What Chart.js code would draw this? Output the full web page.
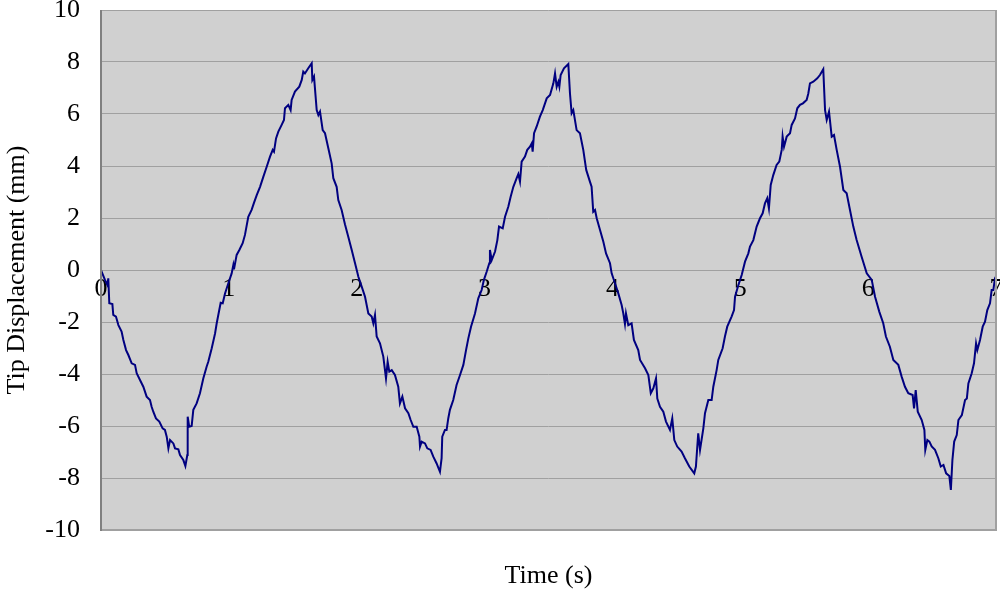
<!DOCTYPE html>
<html>
<head>
<meta charset="utf-8">
<script src="https://cdn.jsdelivr.net/npm/chart.js@4"></script>
<style>
  html, body { margin: 0; padding: 0; background: #ffffff; }
  #wrap { width: 1000px; height: 596px; }
</style>
</head>
<body>
<div id="wrap"><canvas id="tipChart" width="1000" height="596"></canvas></div>
<script>
// time (s)
const times = [
  0.000, 0.031, 0.050, 0.057, 0.065, 0.089, 0.096, 0.117, 0.136, 0.161,
  0.175, 0.196, 0.214, 0.240, 0.266, 0.279, 0.305, 0.331, 0.357, 0.383,
  0.396, 0.409, 0.430, 0.456, 0.482, 0.500, 0.514, 0.527, 0.540, 0.566,
  0.579, 0.605, 0.618, 0.644, 0.660, 0.675, 0.678, 0.690, 0.709, 0.722,
  0.748, 0.774, 0.800, 0.826, 0.839, 0.866, 0.892, 0.905, 0.925, 0.936,
  0.952, 0.970, 0.996, 1.022, 1.035, 1.040, 1.061, 1.082, 1.108, 1.126,
  1.152, 1.178, 1.197, 1.218, 1.244, 1.270, 1.296, 1.322, 1.343, 1.353,
  1.369, 1.387, 1.413, 1.431, 1.439, 1.465, 1.483, 1.491, 1.517, 1.551,
  1.570, 1.582, 1.595, 1.621, 1.648, 1.653, 1.666, 1.687, 1.700, 1.713,
  1.734, 1.752, 1.778, 1.804, 1.817, 1.843, 1.856, 1.882, 1.908, 1.934,
  1.961, 1.987, 2.013, 2.039, 2.065, 2.091, 2.117, 2.130, 2.143, 2.156,
  2.182, 2.208, 2.229, 2.242, 2.255, 2.274, 2.299, 2.325, 2.338, 2.357,
  2.378, 2.404, 2.422, 2.443, 2.469, 2.490, 2.495, 2.508, 2.534, 2.552,
  2.578, 2.599, 2.625, 2.651, 2.664, 2.669, 2.690, 2.703, 2.716, 2.729,
  2.755, 2.781, 2.808, 2.834, 2.855, 2.873, 2.894, 2.925, 2.951, 2.977,
  2.995, 3.017, 3.037, 3.042, 3.056, 3.082, 3.100, 3.113, 3.142, 3.160,
  3.186, 3.204, 3.225, 3.251, 3.264, 3.277, 3.290, 3.316, 3.334, 3.355,
  3.369, 3.376, 3.387, 3.407, 3.433, 3.455, 3.486, 3.512, 3.538, 3.551,
  3.564, 3.577, 3.585, 3.595, 3.621, 3.655, 3.668, 3.681, 3.694, 3.720,
  3.746, 3.772, 3.795, 3.824, 3.837, 3.850, 3.864, 3.877, 3.903, 3.929,
  3.950, 3.981, 3.994, 4.020, 4.046, 4.072, 4.085, 4.098, 4.106, 4.124,
  4.150, 4.168, 4.202, 4.216, 4.255, 4.281, 4.300, 4.320, 4.341, 4.351,
  4.372, 4.398, 4.419, 4.450, 4.468, 4.484, 4.507, 4.541, 4.567, 4.601,
  4.640, 4.653, 4.671, 4.685, 4.711, 4.724, 4.750, 4.776, 4.789, 4.815,
  4.828, 4.862, 4.880, 4.898, 4.932, 4.951, 4.959, 4.985, 5.011, 5.037,
  5.063, 5.076, 5.102, 5.128, 5.154, 5.175, 5.193, 5.211, 5.224, 5.238,
  5.258, 5.284, 5.305, 5.324, 5.331, 5.342, 5.363, 5.389, 5.402, 5.428,
  5.446, 5.467, 5.490, 5.519, 5.532, 5.545, 5.571, 5.602, 5.623, 5.649,
  5.663, 5.676, 5.694, 5.715, 5.733, 5.754, 5.780, 5.806, 5.832, 5.858,
  5.884, 5.910, 5.949, 5.989, 6.028, 6.054, 6.087, 6.118, 6.139, 6.170,
  6.197, 6.236, 6.262, 6.288, 6.314, 6.348, 6.359, 6.372, 6.388, 6.419,
  6.440, 6.447, 6.463, 6.479, 6.497, 6.523, 6.549, 6.568, 6.589, 6.610,
  6.635, 6.647, 6.659, 6.673, 6.693, 6.706, 6.733, 6.758, 6.772, 6.784,
  6.810, 6.828, 6.844, 6.854, 6.875, 6.896, 6.914, 6.932, 6.953, 6.966,
  6.979, 6.992, 7.000
];

// tip displacement (mm)
const displacement = [
   0.00, -0.38, -0.58, -0.32, -1.28, -1.31, -1.73, -1.79, -2.12, -2.37,
  -2.69, -3.08, -3.27, -3.59, -3.65, -3.97, -4.23, -4.49, -4.87, -5.00,
  -5.26, -5.45, -5.71, -5.83, -6.09, -6.15, -6.41, -6.86, -6.54, -6.67,
  -6.86, -6.90, -7.12, -7.31, -7.54, -7.12, -5.64, -6.03, -6.00, -5.38,
  -5.13, -4.74, -4.17, -3.72, -3.53, -3.01, -2.44, -2.05, -1.54, -1.26,
  -1.28, -0.90, -0.51, -0.13,  0.19,  0.03,  0.58,  0.77,  1.03,  1.35,
   2.05,  2.31,  2.59,  2.88,  3.20,  3.59,  3.97,  4.36,  4.62,  4.55,
   5.06,  5.32,  5.58,  5.77,  6.22,  6.35,  6.15,  6.54,  6.86,  7.05,
   7.31,  7.63,  7.56,  7.76,  7.95,  7.31,  7.44,  6.15,  5.96,  6.09,
   5.38,  5.26,  4.68,  4.10,  3.53,  3.20,  2.69,  2.31,  1.76,  1.28,
   0.77,  0.26, -0.26, -0.64, -1.03, -1.67, -1.79, -2.05, -1.73, -2.56,
  -2.82, -3.33, -4.17, -3.53, -3.91, -3.85, -4.04, -4.49, -5.13, -4.87,
  -5.32, -5.51, -5.77, -6.03, -6.03, -6.41, -6.79, -6.60, -6.67, -6.86,
  -6.92, -7.18, -7.44, -7.76, -7.24, -6.41, -6.15, -6.15, -5.71, -5.38,
  -5.00, -4.42, -4.04, -3.65, -3.08, -2.63, -2.18, -1.67, -1.09, -0.77,
  -0.38, -0.06,  0.26,  0.77,  0.38,  0.71,  1.15,  1.67,  1.60,  2.05,
   2.44,  2.82,  3.20,  3.53,  3.69,  3.40,  4.17,  4.36,  4.62,  4.74,
   4.87,  4.55,  5.26,  5.51,  5.90,  6.15,  6.60,  6.73,  7.18,  7.56,
   7.05,  7.24,  7.05,  7.50,  7.76,  7.92,  6.79,  6.03,  6.15,  5.38,
   5.26,  4.62,  3.85,  3.40,  3.20,  2.24,  2.31,  1.99,  1.54,  1.09,
   0.64,  0.26, -0.13, -0.51, -0.90, -1.35, -1.67, -2.08, -1.67, -2.12,
  -2.05, -2.69, -3.08, -3.46, -3.78, -4.04, -4.74, -4.55, -4.17, -4.94,
  -5.26, -5.45, -5.83, -6.15, -5.71, -6.54, -6.79, -6.98, -7.24, -7.56,
  -7.82, -7.56, -6.28, -6.92, -6.09, -5.51, -5.00, -5.00, -4.49, -3.85,
  -3.46, -3.01, -2.56, -2.18, -1.79, -1.54, -1.03, -0.58, -0.19,  0.32,
   0.64,  0.90,  1.15,  1.67,  1.99,  2.18,  2.56,  2.76,  2.37,  3.27,
   3.65,  4.04,  4.17,  4.62,  5.13,  4.74,  5.13,  5.26,  5.58,  5.83,
   6.22,  6.35,  6.41,  6.54,  6.79,  7.18,  7.24,  7.37,  7.50,  7.72,
   6.15,  5.77,  6.09,  5.13,  5.19,  4.62,  3.97,  3.08,  2.95,  2.31,
   1.67,  1.15,  0.51, -0.13, -0.38, -1.03, -1.60, -2.05, -2.56, -2.95,
  -3.46, -3.65, -4.10, -4.49, -4.74, -4.81, -5.32, -4.62, -5.45, -5.77,
  -6.15, -6.92, -6.54, -6.60, -6.79, -6.92, -7.24, -7.56, -7.50, -7.82,
  -7.92, -8.46, -7.31, -6.60, -6.35, -5.77, -5.58, -5.00, -4.94, -4.36,
  -3.97, -3.59, -2.82, -3.08, -2.69, -2.18, -1.99, -1.54, -1.28, -0.77,
  -0.77, -0.32, -0.25
];

// 坐标轴刻度
const xTicks = [0, 1, 2, 3, 4, 5, 6, 7];
const yTicks = [-10, -8, -6, -4, -2, 0, 2, 4, 6, 8, 10];

const serif = "'Liberation Serif', 'Times New Roman', serif";

// 绘图区灰色背景和边框
const plotFrame = {
    id: 'plotFrame',
    beforeDraw(chart) {
        const { ctx, chartArea: a } = chart;
        ctx.save();
        ctx.fillStyle = '#d0d0d0';
        ctx.fillRect(a.left, a.top, a.right - a.left, a.bottom - a.top);
        ctx.restore();
    },
    afterDraw(chart) {
        const { ctx, chartArea: a } = chart;
        ctx.save();
        ctx.strokeStyle = '#a0a0a0';
        ctx.lineWidth = 2;
        ctx.beginPath();
        ctx.moveTo(a.left, a.bottom);
        ctx.lineTo(a.right, a.bottom);
        ctx.lineTo(a.right, a.top);
        ctx.stroke();
        ctx.strokeStyle = '#808080';
        ctx.beginPath();
        ctx.moveTo(a.left, a.top);
        ctx.lineTo(a.left, a.bottom + 1);
        ctx.stroke();
        ctx.restore();
    }
};

const points = times.map((t, i) => ({ x: t, y: displacement[i] }));

new Chart(document.getElementById('tipChart').getContext('2d'), {
    type: 'line',
    data: {
        datasets: [{
            data: points,
            borderColor: '#000080',
            borderWidth: 2,
            pointRadius: 0,
            tension: 0,
            fill: false
        }]
    },
    options: {
        responsive: false,
        animation: false,
        layout: { padding: { left: 0, right: 4, top: 0, bottom: 0 } },
        plugins: { legend: { display: false }, tooltip: { enabled: false } },
        scales: {
            x: {
                type: 'linear',
                position: { y: 0 },
                min: 0,
                max: 7,
                afterBuildTicks: (scale) => { scale.ticks = xTicks.map(v => ({ value: v })); },
                grid: { display: false },
                border: { display: false },
                ticks: {
                    color: '#000000',
                    padding: -4,
                    maxRotation: 0,
                    font: { family: serif, size: 26 }
                },
                afterFit: (scale) => {
                    scale.paddingLeft = 0;
                    scale.paddingRight = 0;
                }
            },
            xTitle: {
                type: 'linear',
                position: 'bottom',
                axis: 'x',
                min: 0,
                max: 7,
                grid: { display: false, drawTicks: false },
                border: { display: false },
                ticks: { display: false },
                title: {
                    display: true,
                    text: 'Time (s)',
                    color: '#000000',
                    padding: { top: 0, bottom: 4 },
                    font: { family: serif, size: 26 }
                },
                afterFit: (scale) => {
                    scale.height = 66;
                    scale.paddingLeft = 0;
                    scale.paddingRight = 0;
                }
            },
            y: {
                type: 'linear',
                position: 'left',
                min: -10,
                max: 10,
                afterBuildTicks: (scale) => { scale.ticks = yTicks.map(v => ({ value: v })); },
                grid: { color: '#a0a0a0', lineWidth: 1, drawTicks: false },
                border: { display: false },
                ticks: {
                    color: '#000000',
                    padding: 21,
                    font: { family: serif, size: 26 }
                },
                title: {
                    display: true,
                    text: 'Tip Displacement (mm)',
                    color: '#000000',
                    padding: { top: 2, bottom: 0 },
                    font: { family: serif, size: 26 }
                },
                afterFit: (scale) => {
                    scale.width = 101;
                    scale.paddingTop = 10;
                    scale.paddingBottom = 0;
                }
            }
        }
    },
    plugins: [plotFrame]
});
</script>
</body>
</html>
